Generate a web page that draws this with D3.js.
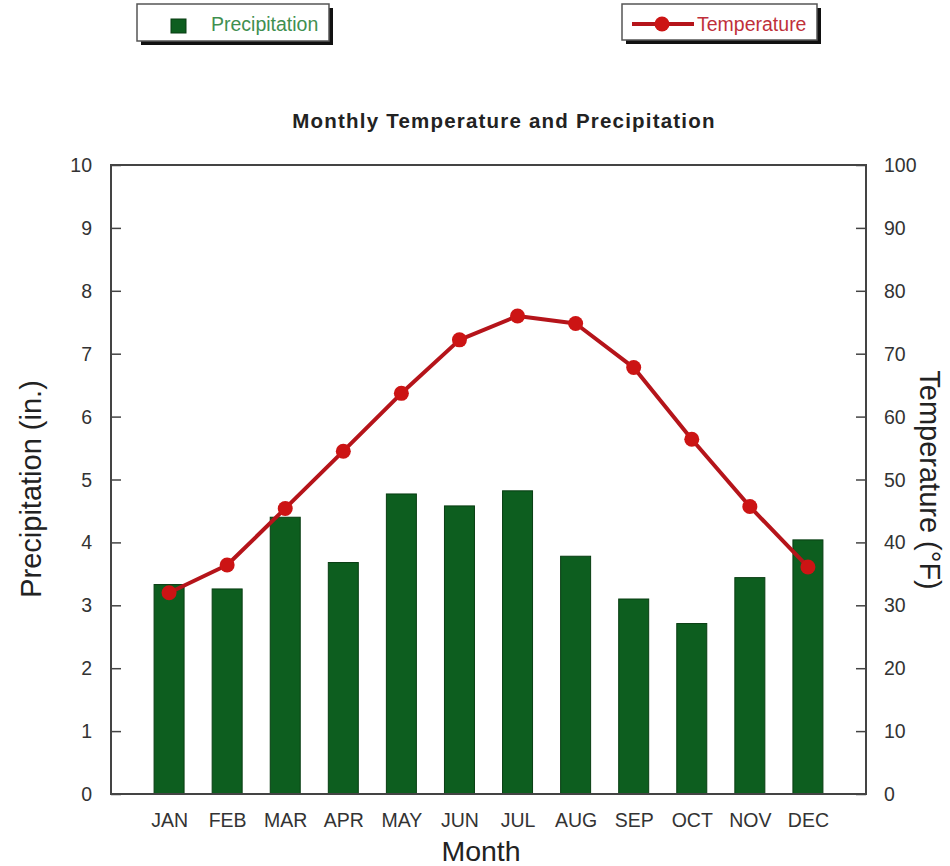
<!DOCTYPE html>
<html><head><meta charset="utf-8">
<script src="https://cdn.jsdelivr.net/npm/d3@7/dist/d3.min.js"></script>
<style>body{margin:0;background:#fff;} svg{display:block;font-family:"Liberation Sans",Arial,sans-serif;}</style>
</head><body>
<script>
const months = ["JAN","FEB","MAR","APR","MAY","JUN","JUL","AUG","SEP","OCT","NOV","DEC"];
const precipitation = [3.33,3.26,4.40,3.68,4.77,4.58,4.82,3.78,3.10,2.71,3.44,4.04];
const temperature = [32.0,36.4,45.4,54.5,63.7,72.2,76.0,74.8,67.8,56.4,45.7,36.1];
const precipTicks = [0,1,2,3,4,5,6,7,8,9,10];
const tempTicks = [0,10,20,30,40,50,60,70,80,90,100];

const W=950,H=866;
const L=111,R=866,T=165,B=794;
const svg=d3.select("body").append("svg").attr("width",W).attr("height",H);

const x=d3.scalePoint().domain(months).range([L,R]).padding(1);
const yP=d3.scaleLinear().domain([0,10]).range([B,T]);
const yT=d3.scaleLinear().domain([0,100]).range([B,T]);

// title
svg.append("text").attr("x",504).attr("y",128).attr("text-anchor","middle")
  .attr("font-size",20.5).attr("font-weight","bold").attr("letter-spacing",1.2).attr("fill","#222").text("Monthly Temperature and Precipitation");

// bars
const bw=30;
svg.append("g").selectAll("rect").data(precipitation).join("rect")
  .attr("x",(d,i)=>x(months[i])-bw/2).attr("width",bw)
  .attr("y",d=>yP(d)).attr("height",d=>B-yP(d))
  .attr("fill","#0d5e1f").attr("stroke","#083d12").attr("stroke-width",1);

// line
const line=d3.line().x((d,i)=>x(months[i])).y(d=>yT(d));
svg.append("path").datum(temperature).attr("d",line).attr("fill","none")
  .attr("stroke","#b5141a").attr("stroke-width",4).attr("stroke-linejoin","round");
svg.append("g").selectAll("circle").data(temperature).join("circle")
  .attr("cx",(d,i)=>x(months[i])).attr("cy",d=>yT(d)).attr("r",7.5).attr("fill","#cc1414");

// axes
const axisColor="#444";
const gl=svg.append("g").attr("transform",`translate(${L},0)`)
  .call(d3.axisRight(yP).tickValues(precipTicks).tickSize(10).tickFormat(""));
const gr=svg.append("g").attr("transform",`translate(${R},0)`)
  .call(d3.axisLeft(yT).tickValues(tempTicks).tickSize(10).tickFormat(""));
[gl,gr].forEach(g=>{g.select(".domain").remove();g.selectAll("line").attr("stroke",axisColor).attr("stroke-width",1.5);});

// tick labels
svg.append("g").selectAll("text").data(precipTicks).join("text")
  .attr("x",92).attr("y",d=>yP(d)+7).attr("text-anchor","end")
  .attr("font-size",19.5).attr("fill","#333").text(d=>d);
svg.append("g").selectAll("text").data(tempTicks).join("text")
  .attr("x",884).attr("y",d=>yT(d)+7).attr("text-anchor","start")
  .attr("font-size",19.5).attr("fill","#333").text(d=>d);

const gx=svg.append("g").attr("transform",`translate(0,${B})`)
  .call(d3.axisBottom(x).tickSize(0).tickPadding(19));
gx.select(".domain").remove();
gx.selectAll("text").attr("font-size",19.5).attr("fill","#333").attr("font-family","Liberation Sans, Arial, sans-serif");

// frame
svg.append("rect").attr("x",L).attr("y",T).attr("width",R-L).attr("height",B-T)
  .attr("fill","none").attr("stroke",axisColor).attr("stroke-width",2);

// axis titles
svg.append("text").attr("transform",`translate(41,489) rotate(-90)`).attr("text-anchor","middle")
  .attr("font-size",29).attr("fill","#222").text("Precipitation (in.)");
svg.append("text").attr("transform",`translate(920,480) rotate(90)`).attr("text-anchor","middle")
  .attr("font-size",29).attr("fill","#222").text("Temperature (°F)");
svg.append("text").attr("x",481).attr("y",861).attr("text-anchor","middle")
  .attr("font-size",28.5).attr("fill","#222").text("Month");

// legends
function legendBox(x0,y0,w,h){
  svg.append("rect").attr("x",x0+4).attr("y",y0+4).attr("width",w).attr("height",h).attr("fill","#111");
  svg.append("rect").attr("x",x0).attr("y",y0).attr("width",w).attr("height",h).attr("fill","#fff").attr("stroke","#555").attr("stroke-width",1.5);
}
legendBox(137,4,192,37);
svg.append("rect").attr("x",171).attr("y",19).attr("width",15).attr("height",14).attr("fill","#0d5e1f").attr("stroke","#083d12");
svg.append("text").attr("x",211).attr("y",31).attr("font-size",19.5).attr("fill","#3f8f50").text("Precipitation");

legendBox(622,4,195,36);
svg.append("line").attr("x1",632).attr("x2",694).attr("y1",24).attr("y2",24).attr("stroke","#b5141a").attr("stroke-width",4);
svg.append("circle").attr("cx",662).attr("cy",24).attr("r",7.5).attr("fill","#cc1414");
svg.append("text").attr("x",697).attr("y",31).attr("font-size",19.5).attr("fill","#c0303a").text("Temperature");
</script>
</body></html>
